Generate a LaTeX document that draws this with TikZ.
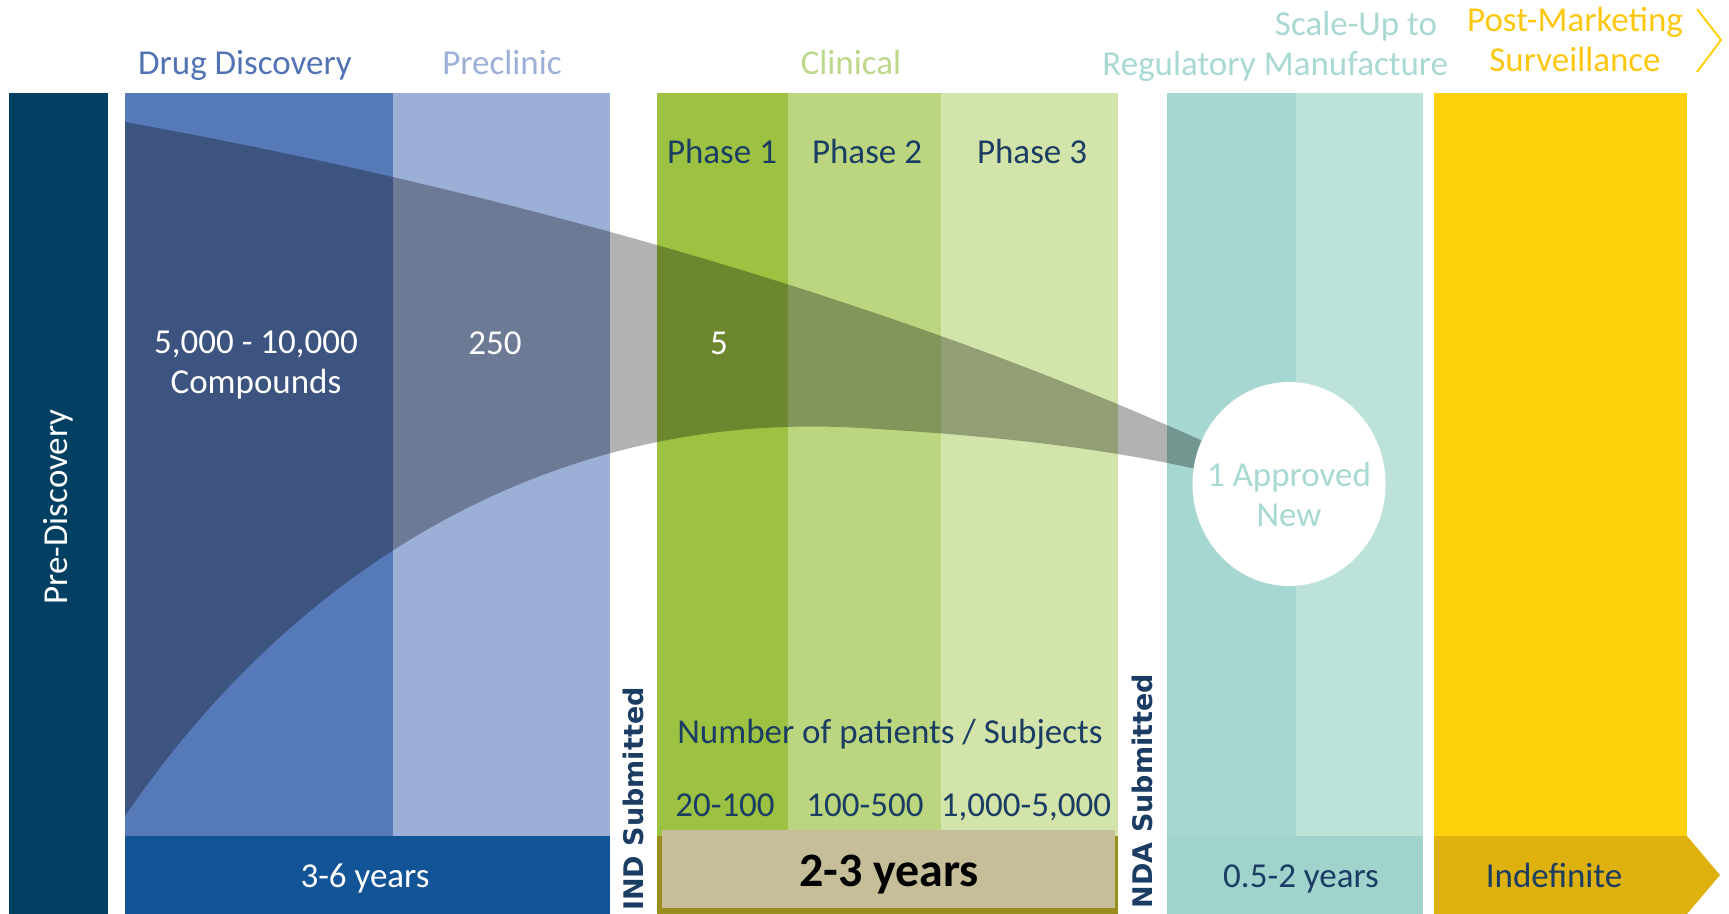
\documentclass[tikz,border=0pt]{standalone}
\usepackage{fontspec}
\setmainfont{Carlito}
\newfontfamily\verafont{DejaVu Sans}
\usepackage{tikz}
\usetikzlibrary{shapes.geometric}

\definecolor{prediscovery}{HTML}{013F63}
\definecolor{drugdisc}{HTML}{5679B7}
\definecolor{preclinic}{HTML}{9CAFD7}
\definecolor{yearsdisc}{HTML}{135497}
\definecolor{phaseone}{HTML}{9DC242}
\definecolor{phasetwo}{HTML}{BCD67F}
\definecolor{phasethree}{HTML}{D2E4A9}
\definecolor{yearsclinfill}{HTML}{C5BE98}
\definecolor{yearsclinline}{HTML}{9A8D20}
\definecolor{regulatory}{HTML}{A6D8D1}
\definecolor{scaleup}{HTML}{BDE2DA}
\definecolor{yearsreg}{HTML}{9FD3CB}
\definecolor{postmarket}{HTML}{FED10C}
\definecolor{yearspost}{HTML}{DFB10E}
\definecolor{navytext}{HTML}{1B3D63}
\definecolor{drughead}{HTML}{5173B3}
\definecolor{clinhead}{HTML}{BCD88A}
\definecolor{reghead}{HTML}{A8D9D3}
\definecolor{posthead}{HTML}{FDC70F}

\begin{document}
\begin{tikzpicture}[x=0.5pt,y=-0.5pt,
						every node/.style={inner sep=0pt,text depth=0pt,anchor=south,
						font=\fontsize{17.5}{20}\selectfont},
						heading/.style={align=center},
						phasetext/.style={text=navytext},
						numtext/.style={text=white,align=center},
						submitted/.style={rotate=90,text=navytext,
						font=\verafont\bfseries\fontsize{13.5}{16}\selectfont}]

		\useasboundingbox (0,0) rectangle (1729,914);

		\fill[prediscovery] (9,93) rectangle (108,914);
		\fill[drugdisc] (125,93) rectangle (393,836);
		\fill[preclinic] (393,93) rectangle (610,836);
		\fill[yearsdisc] (125,836) rectangle (610,914);

		\fill[phaseone] (657,93) rectangle (788,836);
		\fill[phasetwo] (788,93) rectangle (941,836);
		\fill[phasethree] (941,93) rectangle (1118,836);
		\fill[yearsclinline] (657,836) rectangle (1118,914);
		\fill[yearsclinfill] (662,830) rectangle (1115,908);

		\fill[regulatory] (1167,93) rectangle (1296,836);
		\fill[scaleup] (1296,93) rectangle (1423,836);
		\fill[yearsreg] (1167,836) rectangle (1423,914);

		\fill[postmarket] (1434,93) rectangle (1687,836);
		\fill[yearspost] (1434,836) -- (1687,836) -- (1720,875) -- (1687,914) -- (1434,914) -- cycle;
		\draw[postmarket,line width=1pt] (1697,9) -- (1721,40) -- (1697,72);

		\fill[black,opacity=0.3] (125,122) .. controls (500,190) and (900,300) .. (1240,458)
			-- (1240,480) .. controls (1130,450) and (1000,436) .. (860,428)
			.. controls (560,410) and (300,560) .. (125,816) -- cycle;

		\node[ellipse,fill=white,anchor=center,minimum width=96.5pt,minimum height=102pt] (approved) at (1289,484) {};

		\node[heading,text=drughead] (drug) at (245,75) {Drug Discovery};
		\node[heading,text=preclinic] (pre) at (502,75) {Preclinic};
		\node[heading,text=clinhead] (clin) at (851,75) {Clinical};
		\node[heading,text=reghead] (reg) at (1179,76) {Regulatory};
		\node[heading,text=reghead] (scale) at (1356,76) {Scale-Up to\\Manufacture};
		\node[heading,text=posthead] (post) at (1575,72) {Post-Marketing\\Surveillance};

		\node[rotate=90,text=white] (predisc) at (68,507) {Pre-Discovery};

		\node[phasetext] (p1) at (722,164) {Phase 1};
		\node[phasetext] (p2) at (867,164) {Phase 2};
		\node[phasetext] (p3) at (1032,164) {Phase 3};

		\node[numtext] (compounds) at (256,394) {5,000 - 10,000\\Compounds};
		\node[numtext] (n250) at (495,355) {250};
		\node[numtext] (n5) at (719,355) {5};
		\node[align=center,text=reghead] (newdrug) at (1289,527) {1 Approved\\New};

		\node[phasetext] (patients) at (890,744) {Number of patients / Subjects};
		\node[phasetext] (s1) at (725,817) {20-100};
		\node[phasetext] (s2) at (865,817) {100-500};
		\node[phasetext] (s3) at (1026,817) {1,000-5,000};

		\node[submitted] (ind) at (644,799) {IND Submitted};
		\node[submitted] (nda) at (1153,791) {NDA Submitted};

		\node[text=white] (y36) at (365,888) {3-6 years};
		\node[font=\bfseries\fontsize{24}{28}\selectfont] (y23) at (889,887) {2-3 years};
		\node[phasetext] (y05) at (1301,888) {0.5-2 years};
		\node[phasetext] (yind) at (1554,888) {Indefinite};

	\end{tikzpicture}
\end{document}
